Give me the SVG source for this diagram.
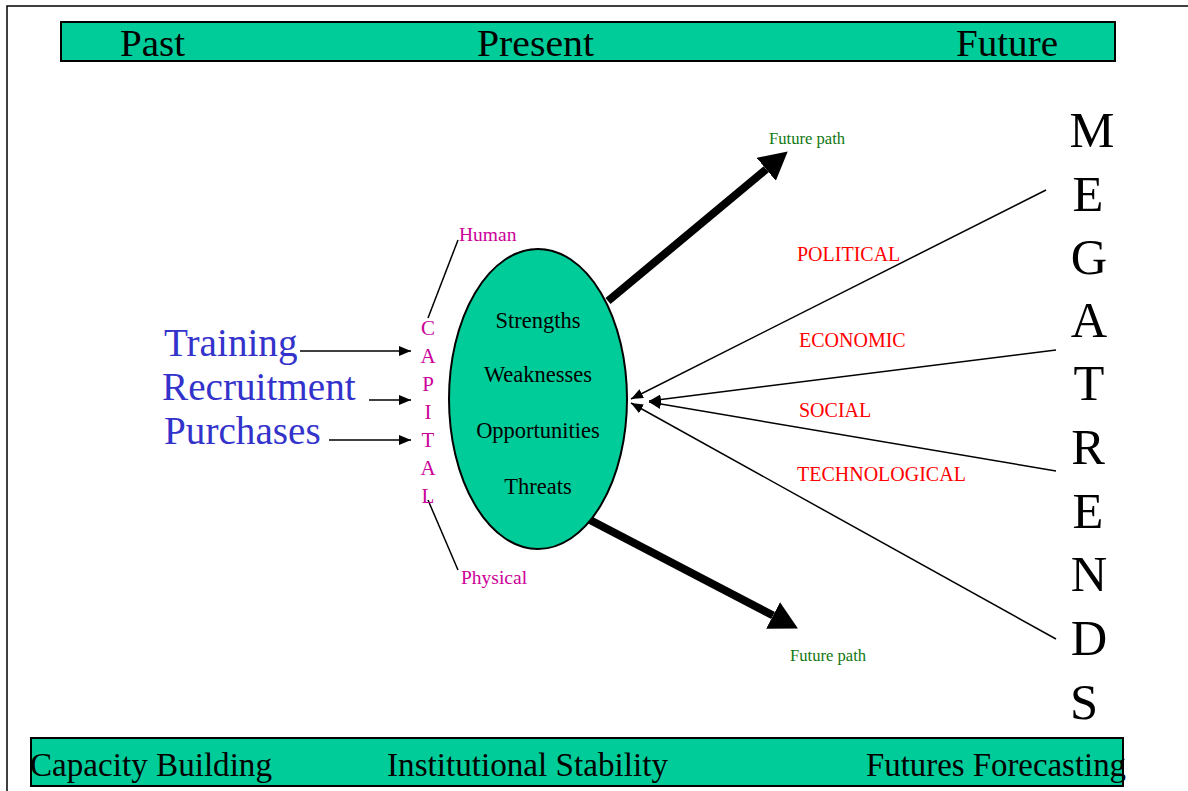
<svg xmlns="http://www.w3.org/2000/svg" width="1188" height="791" viewBox="0 0 1188 791">
<defs>
<style>
.band{fill:#00CC99;stroke:#000;stroke-width:2}
.bandtxt{font-family:"Liberation Serif",serif;font-size:38px;fill:#000}
.swot{font-family:"Liberation Serif",serif;font-size:22.5px;fill:#000;text-anchor:middle}
.cap{font-family:"Liberation Serif",serif;font-size:21px;fill:#CC0099;text-anchor:middle}
.capl{font-family:"Liberation Serif",serif;font-size:19.5px;fill:#CC0099}
.inp{font-family:"Liberation Serif",serif;font-size:39.2px;fill:#3333CC}
.trend{font-family:"Liberation Serif",serif;font-size:20px;fill:#FF0000}
.fp{font-family:"Liberation Serif",serif;font-size:16.6px;fill:#117711}
.mega{font-family:"Liberation Serif",serif;font-size:50.5px;fill:#000;text-anchor:middle}
.thin{stroke:#000;stroke-width:1.5;fill:none}
.thick{stroke:#000;stroke-width:8;fill:none}
</style>
<marker id="sm" markerUnits="userSpaceOnUse" markerWidth="12" markerHeight="10" refX="12" refY="5" orient="auto">
<path d="M0,0 L12,5 L0,10 z" fill="#000"/>
</marker>
<marker id="big" markerUnits="userSpaceOnUse" markerWidth="28" markerHeight="30" refX="0" refY="15" orient="auto">
<path d="M0,0 L28,15 L0,30 z" fill="#000"/>
</marker>
</defs>
<rect width="1188" height="791" fill="#fff"/>
<path d="M7,791 L7,6 L1188,6" fill="none" stroke="#000" stroke-width="1.5"/>

<g id="top-band">
<rect class="band" x="61" y="22" width="1054" height="39"/>
<text class="bandtxt" x="120" y="56" textLength="65" lengthAdjust="spacingAndGlyphs">Past</text>
<text class="bandtxt" x="477" y="56" textLength="117" lengthAdjust="spacingAndGlyphs">Present</text>
<text class="bandtxt" x="956" y="56" textLength="102" lengthAdjust="spacingAndGlyphs">Future</text>
</g>

<g id="bottom-band">
<rect class="band" x="31" y="738" width="1092" height="48"/>
<text class="bandtxt" style="font-size:34px" x="30" y="776" textLength="242" lengthAdjust="spacingAndGlyphs">Capacity Building</text>
<text class="bandtxt" style="font-size:34px" x="387" y="776" textLength="281" lengthAdjust="spacingAndGlyphs">Institutional Stability</text>
<text class="bandtxt" style="font-size:34px" x="866" y="776" textLength="260" lengthAdjust="spacingAndGlyphs">Futures Forecasting</text>
</g>

<g id="connectors">
<line class="thin" x1="300" y1="351" x2="411" y2="351" marker-end="url(#sm)"/>
<line class="thin" x1="369" y1="400" x2="411" y2="400" marker-end="url(#sm)"/>
<line class="thin" x1="329" y1="440" x2="411" y2="440" marker-end="url(#sm)"/>
<line class="thin" x1="458" y1="240" x2="428" y2="318"/>
<line class="thin" x1="428" y1="500" x2="458" y2="570"/>
<line class="thick" x1="608" y1="301" x2="766.2" y2="169.3" marker-end="url(#big)"/>
<line class="thick" x1="590" y1="520" x2="773.1" y2="615.5" marker-end="url(#big)"/>
<line class="thin" x1="1046" y1="190" x2="631" y2="399" marker-end="url(#sm)"/>
<line class="thin" x1="1056" y1="350" x2="649" y2="401" marker-end="url(#sm)"/>
<line class="thin" x1="1056" y1="471" x2="649" y2="402" marker-end="url(#sm)"/>
<line class="thin" x1="1056" y1="639" x2="631" y2="403" marker-end="url(#sm)"/>
</g>

<g id="swot">
<ellipse cx="538" cy="399" rx="89" ry="150" fill="#00CC99" stroke="#000" stroke-width="2"/>
<text class="swot" x="538" y="328">Strengths</text>
<text class="swot" x="538" y="382">Weaknesses</text>
<text class="swot" x="538" y="438">Opportunities</text>
<text class="swot" x="538" y="494">Threats</text>
</g>

<g id="capital">
<text class="cap" x="428" y="335">C</text>
<text class="cap" x="428" y="363">A</text>
<text class="cap" x="428" y="391">P</text>
<text class="cap" x="428" y="419">I</text>
<text class="cap" x="428" y="447">T</text>
<text class="cap" x="428" y="475">A</text>
<text class="cap" x="428" y="503">L</text>
</g>
<g id="human"><text class="capl" x="459" y="241">Human</text></g>
<g id="physical"><text class="capl" x="461" y="584">Physical</text></g>

<g id="inputs">
<text class="inp" x="164" y="356">Training</text>
<text class="inp" x="162" y="400">Recruitment</text>
<text class="inp" x="164" y="444">Purchases</text>
</g>

<g id="future-path-up"><text class="fp" x="769" y="144">Future path</text></g>
<g id="future-path-down"><text class="fp" x="790" y="661">Future path</text></g>

<g id="trends">
<text class="trend" x="797" y="261">POLITICAL</text>
<text class="trend" x="799" y="347">ECONOMIC</text>
<text class="trend" x="799" y="417">SOCIAL</text>
<text class="trend" x="797" y="481">TECHNOLOGICAL</text>
</g>

<g id="megatrends">
<text class="mega" x="1092" y="147">M</text>
<text class="mega" x="1088" y="211">E</text>
<text class="mega" x="1089" y="274">G</text>
<text class="mega" x="1089" y="337">A</text>
<text class="mega" x="1089" y="400">T</text>
<text class="mega" x="1088" y="464">R</text>
<text class="mega" x="1088" y="528">E</text>
<text class="mega" x="1089" y="591">N</text>
<text class="mega" x="1089" y="655">D</text>
<text class="mega" x="1084" y="719">S</text>
</g>
</svg>
